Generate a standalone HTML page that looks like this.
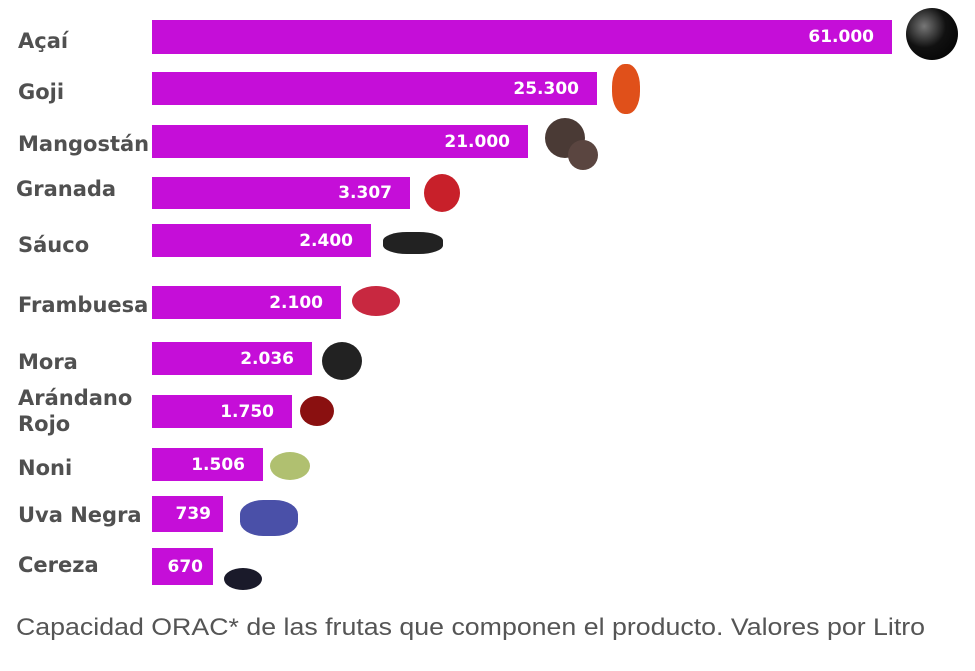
<!DOCTYPE html>
<html><head><meta charset="utf-8"><style>
body{margin:0;background:#fff;width:975px;height:671px;position:relative;overflow:hidden;font-family:"DejaVu Sans","Liberation Sans",sans-serif}
.l{position:absolute;left:18px;font-weight:bold;font-size:21px;color:#505050;line-height:26px}
.b{position:absolute;left:152px;background:#c50ed8;color:#fff;font-weight:bold;font-size:17px;text-align:right;box-sizing:border-box;padding-right:18px;display:flex;align-items:center;justify-content:flex-end}
.f{position:absolute;border-radius:50%}
.cap{position:absolute;left:16px;top:614px;font-family:"Liberation Sans",sans-serif;font-size:24px;color:#555;white-space:nowrap;transform:scaleX(1.114);transform-origin:0 0}
</style></head><body>
<div class="l" style="top:28px">Açaí</div>
<div class="l" style="top:79px">Goji</div>
<div class="l" style="top:131px">Mangostán</div>
<div class="l" style="top:176px;left:16px">Granada</div>
<div class="l" style="top:232px">Sáuco</div>
<div class="l" style="top:292px">Frambuesa</div>
<div class="l" style="top:349px">Mora</div>
<div class="l" style="top:385px">Arándano<br>Rojo</div>
<div class="l" style="top:455px">Noni</div>
<div class="l" style="top:502px">Uva Negra</div>
<div class="l" style="top:552px">Cereza</div>

<div class="b" style="top:20px;width:740px;height:34px">61.000</div>
<div class="b" style="top:72px;width:445px;height:33px">25.300</div>
<div class="b" style="top:125px;width:376px;height:33px">21.000</div>
<div class="b" style="top:177px;width:258px;height:32px">3.307</div>
<div class="b" style="top:224px;width:219px;height:33px">2.400</div>
<div class="b" style="top:286px;width:189px;height:33px">2.100</div>
<div class="b" style="top:342px;width:160px;height:33px">2.036</div>
<div class="b" style="top:395px;width:140px;height:33px">1.750</div>
<div class="b" style="top:448px;width:111px;height:33px">1.506</div>
<div class="b" style="top:496px;width:71px;height:36px;padding-right:12px">739</div>
<div class="b" style="top:548px;width:61px;height:37px;padding-right:10px">670</div>

<div class="f" style="left:906px;top:8px;width:52px;height:52px;background:radial-gradient(circle at 35% 35%,#777,#111 45%,#000)"></div>
<div class="f" style="left:612px;top:64px;width:28px;height:50px;background:#e0501a;border-radius:45%"></div>
<div class="f" style="left:545px;top:118px;width:40px;height:40px;background:#4a3a35"></div>
<div class="f" style="left:568px;top:140px;width:30px;height:30px;background:#5a4540"></div>
<div class="f" style="left:424px;top:174px;width:36px;height:38px;background:#c8202a"></div>
<div class="f" style="left:383px;top:232px;width:60px;height:22px;background:#222;border-radius:40%"></div>
<div class="f" style="left:352px;top:286px;width:48px;height:30px;background:#c82840"></div>
<div class="f" style="left:322px;top:342px;width:40px;height:38px;background:#222"></div>
<div class="f" style="left:300px;top:396px;width:34px;height:30px;background:#8a1010"></div>
<div class="f" style="left:270px;top:452px;width:40px;height:28px;background:#b0c070"></div>
<div class="f" style="left:240px;top:500px;width:58px;height:36px;background:#4a50a8;border-radius:40%"></div>
<div class="f" style="left:224px;top:568px;width:38px;height:22px;background:#1a1a2a"></div>

<div class="cap">Capacidad ORAC* de las frutas que componen el producto. Valores por Litro</div>
</body></html>
